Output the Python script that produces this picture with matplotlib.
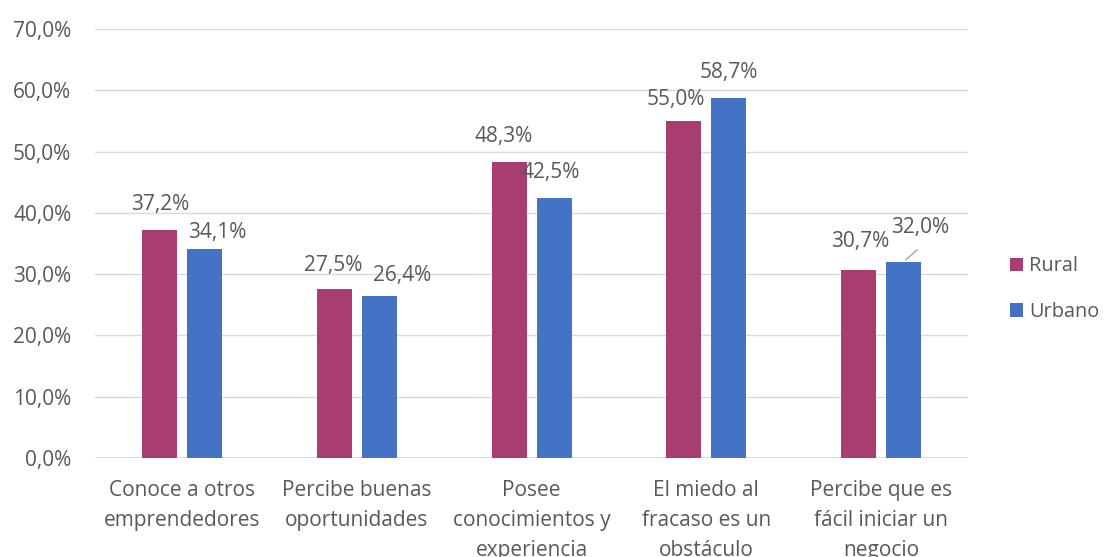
import matplotlib
matplotlib.use("Agg")
import matplotlib.pyplot as plt
import numpy as np

categories = ["Conoce a otros\nemprendedores", "Percibe buenas\noportunidades",
              "Posee\nconocimientos y\nexperiencia", "El miedo al\nfracaso es un\nobstáculo",
              "Percibe que es\nfácil iniciar un\nnegocio"]
rural = [37.2, 27.5, 48.3, 55.0, 30.7]
urbano = [34.1, 26.4, 42.5, 58.7, 32.0]
yticks = [0, 10, 20, 30, 40, 50, 60, 70]

# label offsets in pixels (dx, dy)
rural_off = [(0, 26), (-1, 24), (-5, 25), (-8, 21), (2, 28)]
urb_off = [(12, 17), (23, 21), (-3, 25), (0, 26), (17, 34)]

plt.rcParams['font.family'] = ['Open Sans', 'DejaVu Sans']
txt = '#595959'
fs = 15

fig = plt.figure(figsize=(11.04, 5.57), dpi=100)
ax = fig.add_axes([0.086, 0.1777, 0.791, 0.7703])
x = np.arange(len(categories))
w = 0.2
off = 0.129
b1 = ax.bar(x - off, rural, w, color='#A83D72', label='Rural', zorder=3)
b2 = ax.bar(x + off, urbano, w, color='#4472C4', label='Urbano', zorder=3)

def fmt(v):
    return f"{v:.1f}%".replace('.', ',')

for bars, vals, offs in ((b1, rural, rural_off), (b2, urbano, urb_off)):
    for b, v, (dx, dy) in zip(bars, vals, offs):
        ax.annotate(fmt(v), (b.get_x() + b.get_width() / 2, v), xytext=(dx, dy),
                    textcoords='offset pixels', ha='center', va='center',
                    fontsize=fs, color=txt, zorder=4)
# leader line for 32,0%
bb = b2[4]
ax.annotate('', (bb.get_x() + bb.get_width() / 2, urbano[4]), xytext=(16, 14),
            textcoords='offset pixels',
            arrowprops=dict(arrowstyle='-', color='#a6a6a6', lw=1))

ax.set_xlim(-0.5, len(categories) - 0.5)
ax.set_ylim(0, 70)
ax.set_yticks(yticks)
ax.set_yticklabels([f"{t:.1f}%".replace('.', ',') for t in yticks])
ax.set_xticks(x)
ax.set_xticklabels(categories, linespacing=1.55, va='top')
ax.tick_params(axis='both', length=0, labelsize=fs, colors=txt)
ax.tick_params(axis='x', pad=16)
ax.tick_params(axis='y', pad=17)
ax.grid(axis='y', color='#d9d9d9', lw=1, zorder=0)
for s in ax.spines.values():
    s.set_visible(False)
ax.axhline(0, color='#d9d9d9', lw=1.2, zorder=2)

leg = fig.legend(loc='center left', bbox_to_anchor=(0.915, 0.481), frameon=False,
                 fontsize=14.3, labelcolor=txt, handlelength=0.65, handleheight=0.65,
                 handletextpad=0.3, labelspacing=1.3, borderpad=0, borderaxespad=0)

fig.savefig('out.png', dpi=100)
